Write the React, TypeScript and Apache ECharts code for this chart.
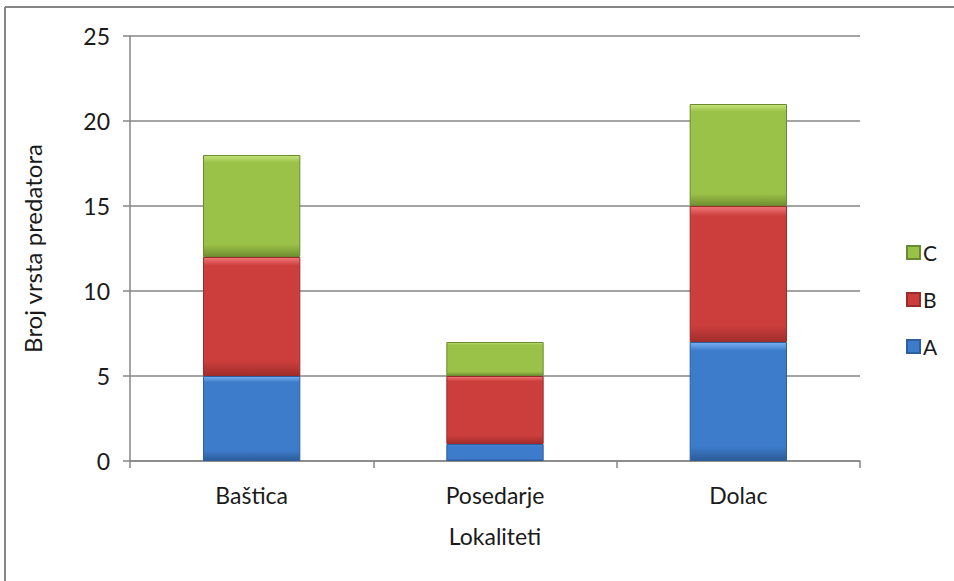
import React, { useEffect, useRef } from "react";
import * as echarts from "echarts";

const categories = ["Baštica", "Posedarje", "Dolac"];
const seriesA = [5, 1, 7];
const seriesB = [7, 4, 8];
const seriesC = [6, 2, 6];
const yTicks = { min: 0, max: 25, interval: 5 };

const FONT = "Lato, 'Open Sans', sans-serif";

function bevel(light: string, main: string, dark: string) {
  return new echarts.graphic.LinearGradient(0, 0, 0, 1, [
    { offset: 0, color: light },
    { offset: 0.07, color: main },
    { offset: 0.88, color: main },
    { offset: 1, color: dark },
  ]);
}

export default function App() {
  const ref = useRef<HTMLDivElement>(null);
  useEffect(() => {
    if (!ref.current) return;
    const chart = echarts.init(ref.current, null, { renderer: "svg" });
    const mk = (name: string, data: number[], light: string, main: string, dark: string, border: string) => ({
      name,
      type: "bar",
      stack: "total",
      data,
      barWidth: "40%",
      itemStyle: {
        color: bevel(light, main, dark),
        borderColor: border,
        borderWidth: 1,
      },
    });
    chart.setOption({
      animation: false,
      backgroundColor: "#ffffff",
      textStyle: { fontFamily: FONT },
      grid: { left: 130, right: 94, top: 36, bottom: 120 },
      legend: {
        orient: "vertical",
        left: 901,
        top: 237,
        data: ["C", "B", "A"],
        itemWidth: 13,
        itemHeight: 13,
        itemGap: 26,
        icon: "rect",
        textStyle: { fontSize: 21, color: "#1a1a1a", fontFamily: FONT, padding: [0, 0, 0, -2] },
      },
      xAxis: {
        type: "category",
        data: categories,
        name: "Lokaliteti",
        nameLocation: "middle",
        nameGap: 63,
        nameTextStyle: { fontSize: 23, color: "#1a1a1a", fontFamily: FONT },
        axisLine: { lineStyle: { color: "#868686", width: 1.5 } },
        axisTick: { show: true, length: 7, lineStyle: { color: "#868686", width: 1.5 } },
        axisLabel: { fontSize: 23, color: "#1a1a1a", margin: 22, fontFamily: FONT },
      },
      yAxis: {
        type: "value",
        min: yTicks.min,
        max: yTicks.max,
        interval: yTicks.interval,
        name: "Broj vrsta predatora",
        nameLocation: "middle",
        nameGap: 86,
        nameTextStyle: { fontSize: 24, color: "#1a1a1a", fontFamily: FONT },
        axisLine: { show: true, lineStyle: { color: "#868686", width: 1.5 } },
        axisTick: { show: true, length: 7, lineStyle: { color: "#868686", width: 1.5 } },
        axisLabel: { fontSize: 23, color: "#1a1a1a", margin: 20, fontFamily: FONT },
        splitLine: { lineStyle: { color: "#868686", width: 1.5 } },
      },
      graphic: [
        { type: "line", shape: { x1: 5, y1: 7, x2: 954, y2: 7 }, style: { stroke: "#868686", lineWidth: 2 } },
        { type: "line", shape: { x1: 5, y1: 7, x2: 5, y2: 581 }, style: { stroke: "#868686", lineWidth: 2 } },
      ],
      series: [
        mk("A", seriesA, "#78b0f0", "#3d7ccb", "#2c5c99", "#2d5f9e"),
        mk("B", seriesB, "#f07878", "#cc3e3c", "#a12e2c", "#9a2d2b"),
        mk("C", seriesC, "#c4e47a", "#9bc248", "#718f31", "#6b8a30"),
      ],
    });
    return () => chart.dispose();
  }, []);
  return (
    <div
      ref={ref}
      style={{ position: "absolute", left: 0, top: 0, width: 954, height: 581 }}
    />
  );
}
